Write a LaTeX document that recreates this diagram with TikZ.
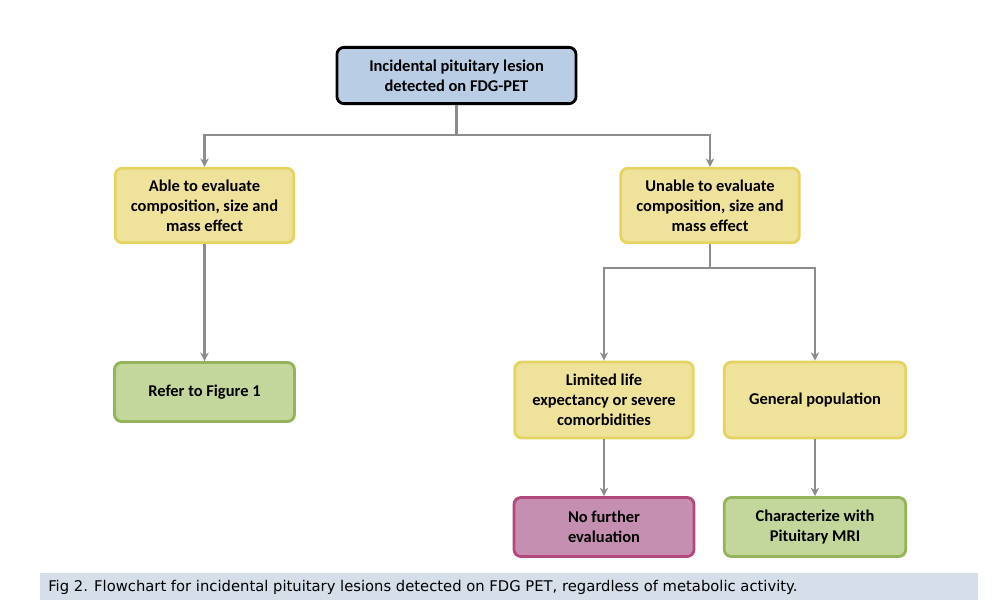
\documentclass[tikz,border=0pt]{standalone}
\usepackage{fontspec}
\setmainfont{Carlito}
\newfontfamily\capfont{DejaVu Sans}
\usepackage{xcolor}
\definecolor{topfill}{HTML}{B9CDE5}
\definecolor{yelfill}{HTML}{EFE39C}
\definecolor{yeldraw}{HTML}{E6D462}
\definecolor{grnfill}{HTML}{C3D69B}
\definecolor{grndraw}{HTML}{94B35A}
\definecolor{pnkfill}{HTML}{C58FB1}
\definecolor{pnkdraw}{HTML}{B3487D}
\definecolor{linkcol}{HTML}{8C8C8C}
\definecolor{capbar}{HTML}{D6DEEA}
\usetikzlibrary{calc,arrows.meta,positioning}

\begin{document}
\begin{tikzpicture}[x=0.025cm, y=-0.025cm, >={Stealth[length=6pt,width=6pt]},
		box/.style={rounded corners=5pt, line width=2pt, align=center, font=\bfseries\fontsize{11.7}{14.2}\selectfont, inner sep=2pt},
		startbox/.style={box, draw=black, fill=topfill, minimum width=170pt, minimum height=40pt},
		askbox/.style={box, draw=yeldraw, fill=yelfill, minimum width=127pt},
		okbox/.style={box, draw=grndraw, fill=grnfill, minimum width=128pt, minimum height=42pt},
		stopbox/.style={box, draw=pnkdraw, fill=pnkfill, minimum width=128pt, minimum height=42pt},
		link/.style={linkcol, line width=1.5pt}]

		% page and margins
		\useasboundingbox (0,0) rectangle (992,610);

		% ================= top of the chart =================
		\node[startbox] (lesion) at (456.5,75.5) {Incidental pituitary lesion\\detected on FDG-PET};

		% first split
		\node[askbox, minimum height=53pt] (able) at (204.5,205.5) {Able to evaluate\\composition, size and\\mass effect};
		\node[askbox, minimum height=53pt] (unable) at (710,205.5) {Unable to evaluate\\composition, size and\\mass effect};
		\coordinate (split1) at (456.5,135);
		\draw[link] (lesion.south) -- (split1);
		\draw[link, ->] (split1) -| (able.north);
		\draw[link, ->] (split1) -| (unable.north);

		% left branch
		\node[okbox] (refer) at (204.5,392) {Refer to Figure 1};
		\draw[link, ->] (able.south) -- (refer.north);

		% ================= right branch =================
		\node[askbox, minimum height=54pt] (limited) at (604,400) {Limited life\\expectancy or severe\\comorbidities};
		\node[askbox, minimum height=54pt, minimum width=129pt] (general) at (815,400) {General population};
		\coordinate (split2) at (710,268);
		\draw[link] (unable.south) -- (split2);
		\draw[link, ->] (split2) -| (limited.north);
		\draw[link, ->] (split2) -| (general.north);

		% outcomes
		\node[stopbox] (nofurther) at (604,527) {No further\\evaluation};
		\node[okbox, minimum width=129pt] (mri) at (815,527) {Characterize with\\Pituitary MRI};
		\draw[link, ->] (limited.south) -- (nofurther.north);
		\draw[link, ->] (general.south) -- (mri.north);

		% ================= caption =================
		\fill[capbar] (40,573) rectangle (978,600);
		\node[anchor=west, font=\capfont\fontsize{10.5}{12}\selectfont, inner sep=0pt] (caption) at (48,587) {Fig 2. Flowchart for incidental pituitary lesions detected on FDG PET, regardless of metabolic activity.};

	\end{tikzpicture}
\end{document}
